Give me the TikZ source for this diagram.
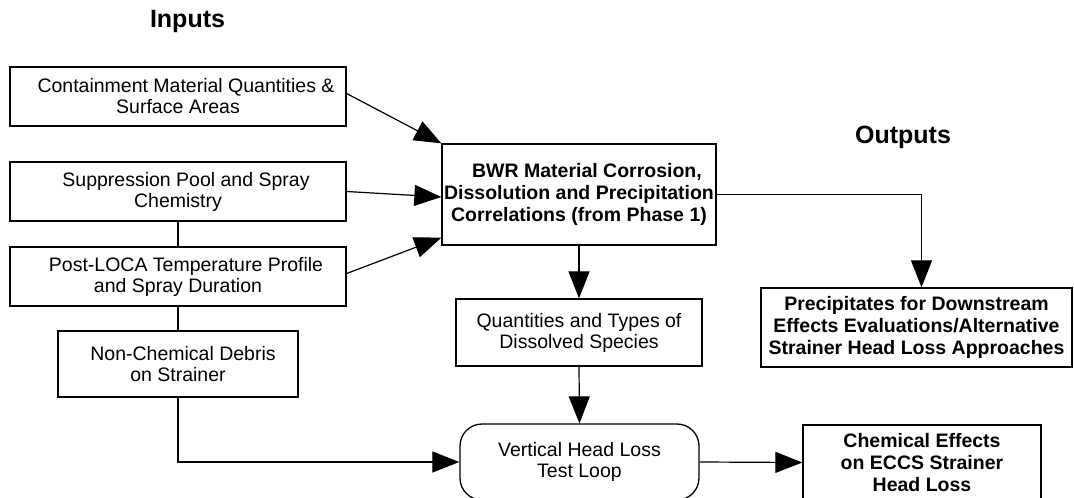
\documentclass[tikz,border=0pt]{standalone}
\usepackage{fontspec}
\setmainfont{Liberation Sans}
\usetikzlibrary{arrows.meta,positioning,calc}

\newcommand{\regtext}{\fontsize{19.5}{21}\selectfont}
\newcommand{\boldtext}{\fontsize{19.5}{22}\selectfont\bfseries}
\newcommand{\titletext}{\fontsize{25}{28}\selectfont\bfseries}

\tikzset{
  box/.style={draw, line width=1.3pt, inner sep=0pt, align=center,
              font=\regtext, fill=white},
  boldbox/.style={box, font=\boldtext},
  loopbox/.style={box, rounded corners=22pt},
  link/.style={line width=1.2pt},
  flow/.style={link, -{Triangle[length=27pt,width=21pt]}},
  heading/.style={font=\titletext, inner sep=0pt}
}

\begin{document}
\begin{tikzpicture}[x=1pt,y=-1pt]
  \clip (0,0) rectangle (1074,498);
  \fill[white] (0,0) rectangle (1074,498);

  % column headings
  \node[heading] (inputs)  at (187.5,21)  {Inputs};
  \node[heading] (outputs) at (903,137)   {Outputs};

  % input boxes
  \node[box, minimum width=336pt, minimum height=59pt] (cont) at (178,96.5)
    {\hspace*{16pt}Containment Material Quantities \&\\Surface Areas};
  \node[box, minimum width=336pt, minimum height=59pt] (supp) at (178,191.5)
    {\hspace*{16pt}Suppression Pool and Spray\\Chemistry};
  \node[box, minimum width=336pt, minimum height=59pt] (post) at (178,276.5)
    {\hspace*{16pt}Post-LOCA Temperature Profile\\and Spray Duration};
  \node[box, minimum width=240pt, minimum height=66pt] (nonc) at (178,364)
    {\hspace*{10pt}Non-Chemical Debris\\on Strainer};

  % correlations
  \node[boldbox, minimum width=274pt, minimum height=101pt] (bwr) at (579,194.5)
    {\hspace*{16pt}BWR Material Corrosion,\\Dissolution and Precipitation\\Correlations (from Phase 1)};

  % intermediate and test loop
  \node[box, minimum width=246pt, minimum height=67pt] (quant) at (579,332.5)
    {Quantities and Types of\\Dissolved Species};
  \node[loopbox, minimum width=239pt, minimum height=76pt] (loop) at (579.5,462)
    {Vertical Head Loss\\Test Loop};

  % outputs
  \node[boldbox, minimum width=311pt, minimum height=79pt] (prec) at (916.5,327.5)
    {Precipitates for Downstream\\Effects Evaluations/Alternative\\Strainer Head Loss Approaches};
  \node[boldbox, minimum width=238pt, minimum height=75pt] (chem) at (922,462.5)
    {Chemical Effects\\on ECCS Strainer\\Head Loss};

  % entry points on the correlations box
  \coordinate (bin2) at ([yshift=-2.5pt]bwr.west);
  \coordinate (bin3) at ([yshift=8pt]bwr.south west);

  % input arrows
  \draw[flow] ([yshift=3pt]cont.east) -- (bwr.north west);
  \draw[flow] (supp.east) -- (bin2);
  \draw[flow] ([yshift=3pt]post.east) -- (bin3);

  % chain of inputs feeding the test loop
  \draw[link] (supp.south) -- (post.north);
  \draw[link] (post.south) -- (nonc.north);
  \draw[flow] (nonc.south) |- (loop.west);

  % main flow
  \draw[flow] (bwr.south) -- (quant.north);
  \draw[flow] (quant.south) -- (loop.north);
  \draw[flow] (loop.east) -- (chem.west);
  \draw[flow] (bwr.east) -| ([xshift=5pt]prec.north);
\end{tikzpicture}
\end{document}
